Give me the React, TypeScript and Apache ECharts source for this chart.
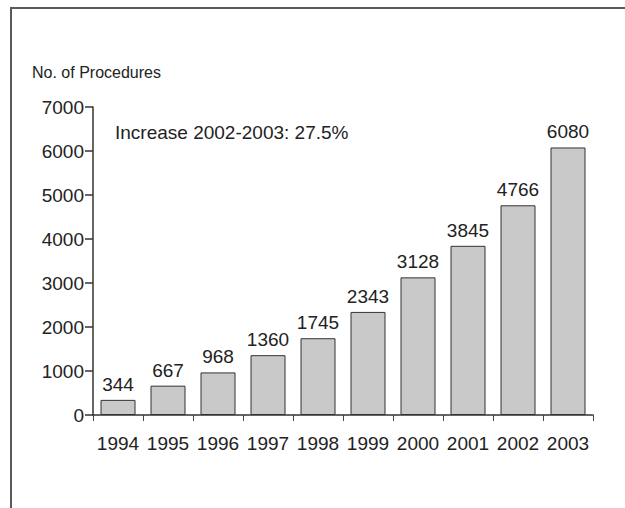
import React, { useEffect, useRef } from "react";
import * as echarts from "echarts";

const years = ["1994", "1995", "1996", "1997", "1998", "1999", "2000", "2001", "2002", "2003"];
const procedures = [344, 667, 968, 1360, 1745, 2343, 3128, 3845, 4766, 6080];
const yAxisTitle = "No. of Procedures";
const annotation = "Increase 2002-2003: 27.5%";

const FONT = "'Liberation Sans', Arial, sans-serif";

export default function App() {
  const ref = useRef<HTMLDivElement>(null);
  useEffect(() => {
    document.body.style.margin = "0";
    const chart = echarts.init(ref.current!, null, { renderer: "svg" });
    chart.setOption({
      animation: false,
      backgroundColor: "#ffffff",
      grid: { left: 93, right: 32, top: 107, bottom: 93, containLabel: false },
      graphic: [
        {
          type: "rect",
          shape: { x: 11, y: 8, width: 700, height: 600 },
          style: { fill: "none", stroke: "#5a5a5a", lineWidth: 2 },
          silent: true,
        },
        {
          type: "text",
          left: 32,
          top: 64,
          style: { text: yAxisTitle, font: `16px ${FONT}`, fill: "#222" },
        },
        {
          type: "text",
          left: 115,
          top: 123,
          style: { text: annotation, font: `19px ${FONT}`, fill: "#222" },
        },
      ],
      xAxis: {
        type: "category",
        data: years,
        boundaryGap: true,
        axisLine: { show: true, lineStyle: { color: "#333", width: 1.5 } },
        axisTick: { show: true, alignWithLabel: false, interval: 0, length: 6, inside: false, lineStyle: { color: "#444" } },
        axisLabel: { color: "#222", fontFamily: FONT, fontSize: 19, margin: 19, interval: 0 },
      },
      yAxis: {
        type: "value",
        min: 0,
        max: 7000,
        interval: 1000,
        splitLine: { show: false },
        axisLine: { show: true, lineStyle: { color: "#333", width: 1.5 } },
        axisTick: { show: true, length: 8, lineStyle: { color: "#333", width: 1.5 } },
        axisLabel: { color: "#222", fontFamily: FONT, fontSize: 19, margin: 9, formatter: (v: number) => String(v) },
      },
      series: [
        {
          type: "bar",
          data: procedures,
          barCategoryGap: "30%",
          itemStyle: { color: "#c9c9c9", borderColor: "#333", borderWidth: 1 },
          label: {
            show: true,
            position: "top",
            distance: 6,
            color: "#222",
            fontFamily: FONT,
            fontSize: 19,
          },
        },
      ],
    });
    return () => chart.dispose();
  }, []);
  return <div ref={ref} style={{ width: 625, height: 508 }} />;
}
